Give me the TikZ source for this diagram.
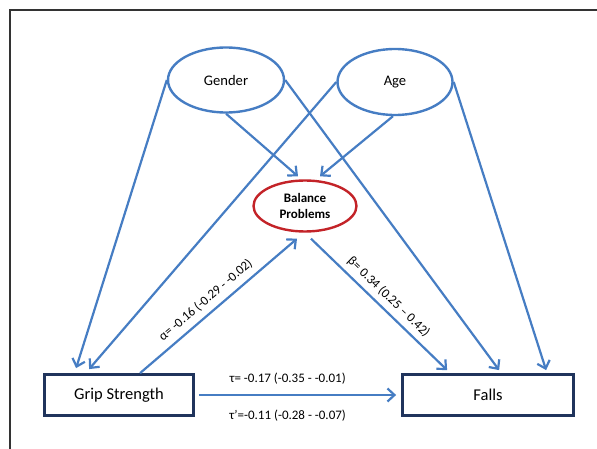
\documentclass[tikz,border=0pt]{standalone}
\usepackage{fontspec}
\setmainfont{Carlito}
\usetikzlibrary{arrows.meta,shapes.geometric}
\definecolor{lineblue}{RGB}{70,125,195}
\definecolor{boxnavy}{RGB}{32,52,92}
\definecolor{balred}{RGB}{195,35,40}
\begin{document}
\begin{tikzpicture}[x=1pt,y=-1pt,
  conn/.style={draw=lineblue, line width=2.2pt, -{Straight Barb[length=7pt,width=13pt]}},
  varnode/.style={ellipse, draw=lineblue, line width=2.4pt, inner sep=0pt, font=\fontsize{14.6}{17}\selectfont},
  mednode/.style={ellipse, draw=balred, line width=2.4pt, inner sep=0pt, align=center, font=\bfseries\fontsize{13}{16}\selectfont},
  boxnode/.style={rectangle, draw=boxnavy, line width=2.8pt, inner sep=0pt, font=\fontsize{16.5}{19}\selectfont},
  lbl/.style={inner sep=0pt, font=\fontsize{13}{15}\selectfont}]
\useasboundingbox (0,0) rectangle (597,449);
\draw[line width=2pt, black!80] (10,449) -- (10,10) -- (597,10);
\node[varnode, minimum width=116pt, minimum height=65pt] (gender) at (226,80) {Gender};
\node[varnode, minimum width=115pt, minimum height=66pt] (age) at (395,82) {Age};
\node[mednode, minimum width=103pt, minimum height=51pt] (bal) at (305,206) {Balance\\Problems};
\node[boxnode, minimum width=149pt, minimum height=41pt] (grip) at (119,395) {Grip Strength};
\node[boxnode, minimum width=171pt, minimum height=41pt] (falls) at (488,395) {Falls};
\draw[conn] (gender.west) -- ([xshift=33pt,yshift=5pt]grip.north west);
\draw[conn] (age.west) -- ([xshift=46pt,yshift=4pt]grip.north west);
\draw[conn] (gender.east) -- ([xshift=98pt,yshift=3pt]falls.north west);
\draw[conn] (age.east) -- ([xshift=145pt,yshift=3pt]falls.north west);
\draw[conn] (gender.south) -- ([xshift=-7pt,yshift=3pt]bal.north);
\draw[conn] ([xshift=-2pt]age.south) -- ([xshift=15pt,yshift=3pt]bal.north);
\draw[conn] ([xshift=97pt]grip.north west) -- node[lbl, sloped, pos=0.47, above=6pt] {α= -0.16 (-0.29 - -0.02)} ([xshift=-8pt,yshift=-6pt]bal.south);
\draw[conn] ([xshift=6pt,yshift=-6pt]bal.south) -- node[lbl, sloped, pos=0.51, above=5pt] {β= 0.34 (0.25 – 0.42)} ([xshift=46pt,yshift=3pt]falls.north west);
\draw[conn] ([xshift=4pt]grip.east) -- node[lbl, pos=0.45, above=10pt] {τ= -0.17 (-0.35 - -0.01)} node[lbl, pos=0.45, below=14pt] {τ’=-0.11 (-0.28 - -0.07)} ([xshift=-5pt]falls.west);
\end{tikzpicture}
\end{document}
